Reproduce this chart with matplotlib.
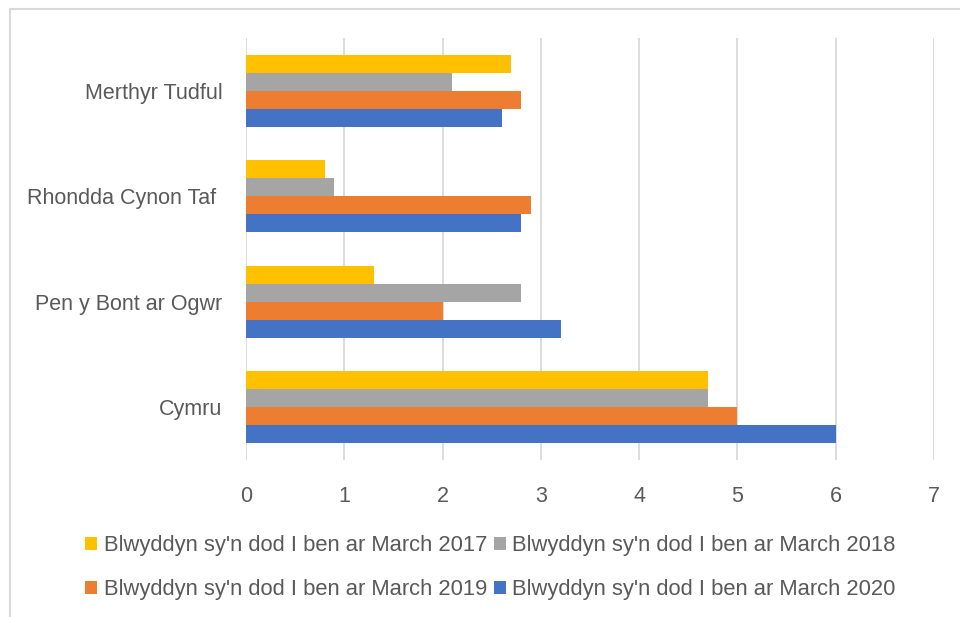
import matplotlib.pyplot as plt
import numpy as np
from matplotlib.lines import Line2D

plt.rcParams['font.family'] = ['Liberation Sans', 'DejaVu Sans']

categories = ["Cymru", "Pen y Bont ar Ogwr", "Rhondda Cynon Taf ", "Merthyr Tudful"]
series_labels = [
    "Blwyddyn sy'n dod I ben ar March 2017",
    "Blwyddyn sy'n dod I ben ar March 2018",
    "Blwyddyn sy'n dod I ben ar March 2019",
    "Blwyddyn sy'n dod I ben ar March 2020",
]
vals_2017 = [4.7, 1.3, 0.8, 2.7]
vals_2018 = [4.7, 2.8, 0.9, 2.1]
vals_2019 = [5.0, 2.0, 2.9, 2.8]
vals_2020 = [6.0, 3.2, 2.8, 2.6]
colors = ["#FFC000", "#A5A5A5", "#ED7D31", "#4472C4"]
x_ticks = [0, 1, 2, 3, 4, 5, 6, 7]

text_col = "#595959"
grid_col = "#D9D9D9"

fig = plt.figure(figsize=(9.6, 6.17), dpi=100)
ax = fig.add_axes([0.2563, 0.2544, 0.7166, 0.684])

y = np.arange(len(categories))
h = 0.17
series = [vals_2017, vals_2018, vals_2019, vals_2020]
offsets = [1.5, 0.5, -0.5, -1.5]
handles = []
for vals, off, col, lab in zip(series, offsets, colors, series_labels):
    b = ax.barh(y + off * h, vals, height=h, color=col, label=lab, zorder=3)
    handles.append(b)

ax.set_xlim(0, 7)
ax.set_ylim(-0.5, len(categories) - 0.5)
ax.set_xticks(x_ticks)
ax.set_yticks(y)
ax.set_yticklabels(categories)
ax.xaxis.grid(True, color=grid_col, linewidth=1.3, zorder=0)
ax.tick_params(axis='both', length=0, labelsize=15.5, colors=text_col)
ax.tick_params(axis='y', pad=17)
ax.tick_params(axis='x', pad=19)
for s in ax.spines.values():
    s.set_visible(False)

# legend: row-major order via column-major fill
order = [0, 2, 1, 3]
leg = fig.legend([handles[i] for i in order], [series_labels[i] for i in order],
                 ncol=2, loc='upper left', bbox_to_anchor=(0.077, 0.15),
                 frameon=False, fontsize=15.8, handlelength=0.55, handleheight=0.55,
                 handletextpad=0.3, columnspacing=0.3, labelspacing=1.05,
                 borderpad=0)
for t in leg.get_texts():
    t.set_color(text_col)

# chart area border (top and left visible)
fig.add_artist(Line2D([9.5 / 960, 1], [1 - 8.5 / 617, 1 - 8.5 / 617], color=grid_col, lw=1.5))
fig.add_artist(Line2D([9.5 / 960, 9.5 / 960], [0, 1 - 8.5 / 617], color=grid_col, lw=1.5))

fig.savefig("out.png", dpi=100)
